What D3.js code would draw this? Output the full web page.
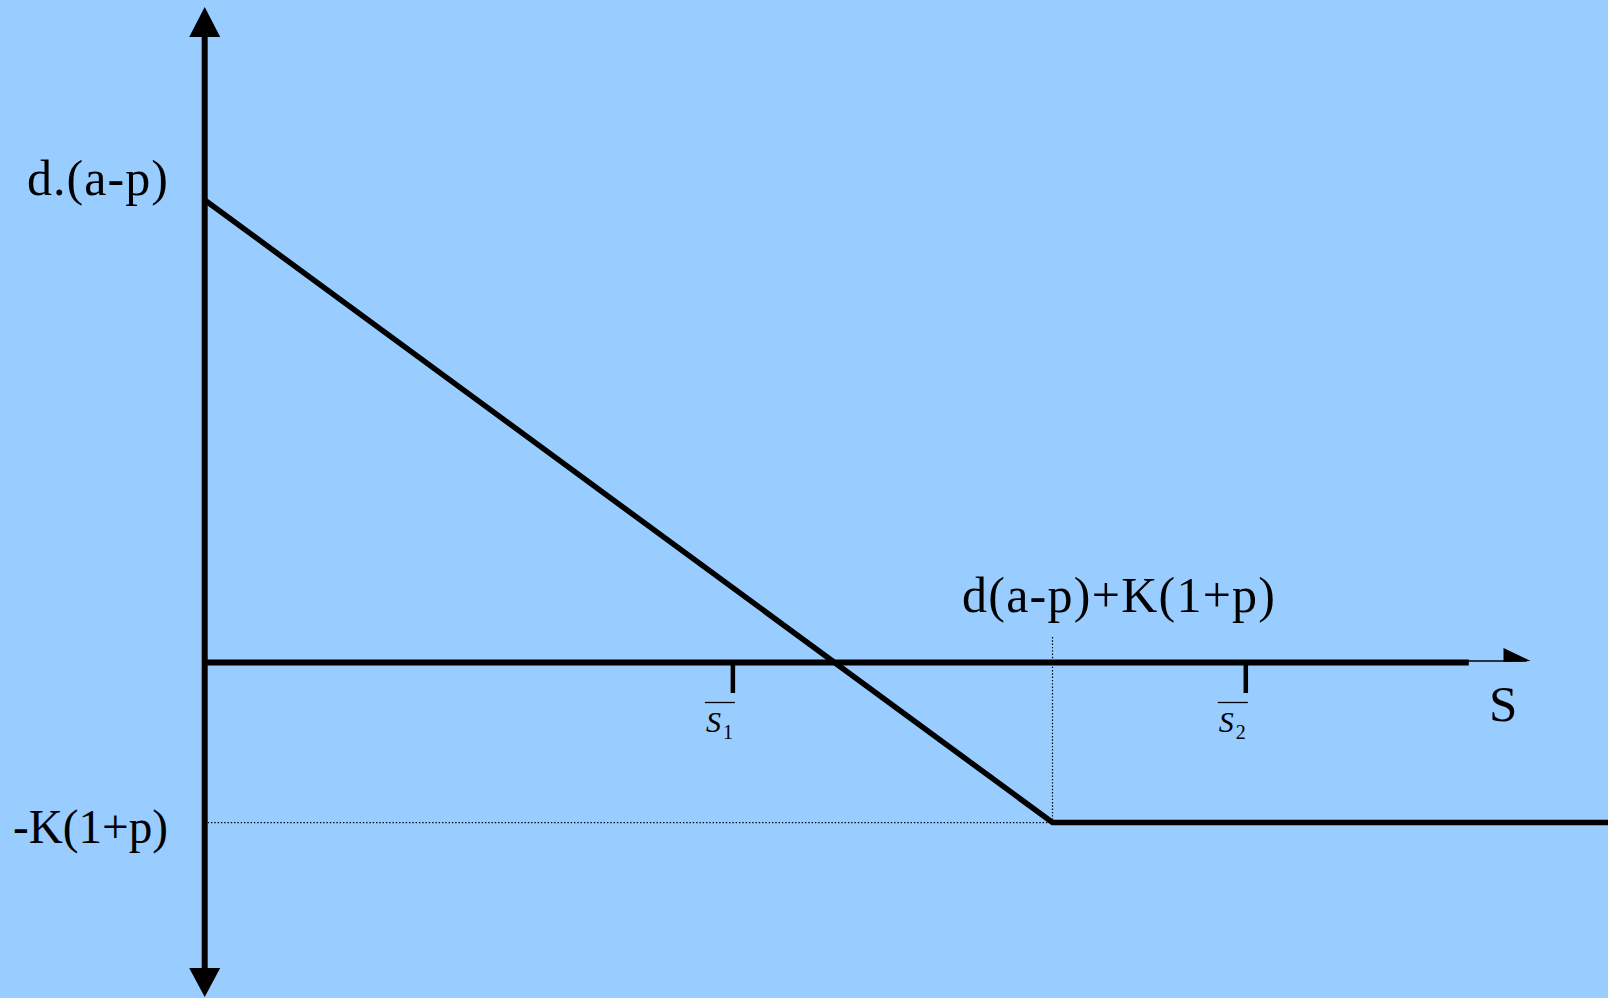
<!DOCTYPE html>
<html>
<head>
<meta charset="utf-8">
<script src="https://cdn.jsdelivr.net/npm/d3@7"></script>
<style>
  html, body { margin: 0; padding: 0; background: #99ccff; }
  svg { display: block; }
  text { font-family: "Liberation Serif", "Times New Roman", serif; fill: #000; }
</style>
</head>
<body>
<div id="chart"></div>
<script>
// profit curve: S in units where the kink sits at 100, value in units where d(a-p) = 100
var curveS = [0, 100, 166];
var curveV = [100, -34.6, -34.6];

// marked stock levels on the S axis
var tickNames = ["1", "2"];
var tickS = [62.3, 122.8];

// axis extents (S units)
var axisEndS = 149.1;
var arrowBaseS = 153.2;
var arrowTipS = 156.4;

var W = 1608, H = 998;

var svg = d3.select("#chart").append("svg")
    .attr("width", W)
    .attr("height", H);

svg.append("rect")
    .attr("width", W)
    .attr("height", H)
    .attr("fill", "#99ccff");

var x = d3.scaleLinear().domain([0, 100]).range([204.7, 1052.5]);
var y = d3.scaleLinear().domain([0, 100]).range([662.5, 200]);

var x0 = x(0), y0 = y(0);
var kinkX = x(curveS[1]), kinkY = y(curveV[1]);

// dotted guides
svg.append("line")
    .attr("x1", x0 + 3).attr("x2", kinkX)
    .attr("y1", kinkY).attr("y2", kinkY)
    .attr("stroke", "#000").attr("stroke-width", 1.2)
    .attr("stroke-dasharray", "1.4,1.9");

svg.append("line")
    .attr("x1", kinkX).attr("x2", kinkX)
    .attr("y1", 637).attr("y2", kinkY)
    .attr("stroke", "#000").attr("stroke-width", 1.2)
    .attr("stroke-dasharray", "1.4,1.9");

// horizontal axis
svg.append("line")
    .attr("x1", x0).attr("x2", x(axisEndS))
    .attr("y1", y0).attr("y2", y0)
    .attr("stroke", "#000").attr("stroke-width", 6);

svg.append("line")
    .attr("x1", x(axisEndS) - 1).attr("x2", x(arrowTipS) - 4)
    .attr("y1", y0 - 1.5).attr("y2", y0 - 1.5)
    .attr("stroke", "#000").attr("stroke-width", 1.6);

svg.append("path")
    .attr("d", "M" + x(arrowBaseS) + "," + (y0 - 14.5) +
               "L" + x(arrowTipS) + "," + (y0 - 1.5) +
               "L" + x(arrowBaseS) + "," + (y0 - 0.5) + "Z")
    .attr("fill", "#000");

// vertical axis
svg.append("line")
    .attr("x1", x0).attr("x2", x0)
    .attr("y1", 30).attr("y2", 972)
    .attr("stroke", "#000").attr("stroke-width", 6);

svg.append("path")
    .attr("d", "M" + x0 + ",7L" + (x0 - 15.5) + ",37L" + (x0 + 15.5) + ",37Z")
    .attr("fill", "#000");

svg.append("path")
    .attr("d", "M" + (x0 - 15.5) + ",968L" + (x0 + 15.5) + ",968L" + x0 + ",997Z")
    .attr("fill", "#000");

// profit curve
var line = d3.line()
    .x(function(d, i) { return x(curveS[i]); })
    .y(function(d, i) { return y(curveV[i]); });

svg.append("path")
    .datum(curveS)
    .attr("d", line)
    .attr("fill", "none")
    .attr("stroke", "#000")
    .attr("stroke-width", 5.5)
    .attr("stroke-linejoin", "miter");

// S ticks with barred labels
var ticks = svg.selectAll(".stick")
    .data(tickS)
  .enter().append("g")
    .attr("class", "stick")
    .attr("transform", function(d) { return "translate(" + x(d) + ",0)"; });

ticks.append("line")
    .attr("x1", 0).attr("x2", 0)
    .attr("y1", y0).attr("y2", 693)
    .attr("stroke", "#000").attr("stroke-width", 4.5);

ticks.append("line")
    .attr("x1", -28).attr("x2", 2)
    .attr("y1", 702.5).attr("y2", 702.5)
    .attr("stroke", "#000").attr("stroke-width", 1.3);

ticks.append("text")
    .attr("x", -27)
    .attr("y", 732)
    .attr("font-size", "30px")
    .attr("font-style", "italic")
    .text("S");

ticks.append("text")
    .attr("x", -10)
    .attr("y", 739)
    .attr("font-size", "20px")
    .text(function(d, i) { return tickNames[i]; });

// value labels
svg.append("text")
    .attr("x", 27).attr("y", 195)
    .attr("font-size", "50px")
    .attr("textLength", 141).attr("lengthAdjust", "spacing")
    .text("d.(a-p)");

svg.append("text")
    .attr("x", 13).attr("y", 843)
    .attr("font-size", "48px")
    .attr("textLength", 155).attr("lengthAdjust", "spacingAndGlyphs")
    .text("-K(1+p)");

svg.append("text")
    .attr("x", 962).attr("y", 612)
    .attr("font-size", "50px")
    .attr("textLength", 313).attr("lengthAdjust", "spacing")
    .text("d(a-p)+K(1+p)");

svg.append("text")
    .attr("x", 1489).attr("y", 721)
    .attr("font-size", "51px")
    .text("S");
</script>
</body>
</html>
